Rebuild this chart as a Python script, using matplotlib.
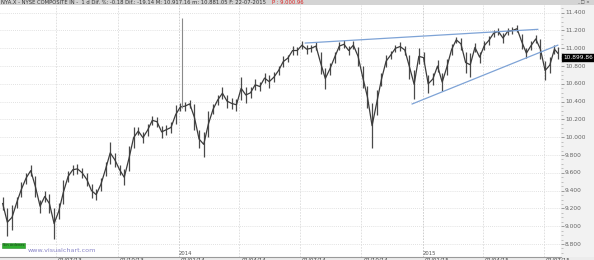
import numpy as np
import pandas as pd
import matplotlib
matplotlib.use('Agg')
import matplotlib.pyplot as plt
import matplotlib.dates as mdates

# weekly bars (friday), NYA.X
weeks = list(pd.date_range('2013-04-12', '2015-07-17', freq='W-FRI')) + [pd.Timestamp('2015-07-22')]
week_high = [9330, 9200, 9240, 9330, 9500, 9600, 9690, 9560, 9300, 9400,
             9360, 9200, 9260, 9520, 9620, 9690, 9700, 9660, 9600, 9480,
             9420, 9540, 9720, 9950, 9820, 9690, 9640, 9900, 10110, 10120,
             10060, 10150, 10240, 10230, 10130, 10140, 10170, 10360, 10390, 10400,
             10420, 10370, 10080, 10060, 10300, 10370, 10480, 10560, 10480, 10440,
             10430, 10680, 10560, 10560, 10650, 10620, 10720, 10700, 10730, 10800,
             10910, 10930, 11030, 11020, 11080, 11040, 11040, 11070, 10960, 10780,
             10840, 10960, 11070, 11090, 11030, 11080, 11020, 10800, 10580, 10380,
             10530, 10720, 10920, 10970, 11040, 11070, 11030, 10930, 10760, 11000,
             10960, 10700, 10720, 10870, 10720, 10880, 11050, 11130, 11120, 10960,
             10950, 11060, 10960, 11080, 11140, 11210, 11230, 11170, 11230, 11240,
             11260, 11160, 11000, 11080, 11150, 11100, 10860, 10900, 11040, 11010]
week_low = [9180, 8890, 8960, 9200, 9330, 9480, 9560, 9330, 9150, 9270,
            9150, 8860, 9080, 9250, 9500, 9580, 9590, 9540, 9450, 9320,
            9290, 9400, 9560, 9700, 9670, 9580, 9460, 9620, 9880, 10020,
            9930, 10010, 10140, 10120, 9990, 10030, 10050, 10150, 10290, 10300,
            10330, 10080, 9880, 9780, 10000, 10260, 10360, 10430, 10330, 10320,
            10300, 10420, 10390, 10440, 10530, 10520, 10610, 10550, 10620, 10700,
            10790, 10850, 10920, 10930, 10990, 10940, 10960, 10980, 10710, 10540,
            10700, 10840, 10980, 11000, 10920, 10990, 10800, 10550, 10330, 9880,
            10250, 10580, 10790, 10880, 10960, 10970, 10930, 10650, 10430, 10820,
            10830, 10500, 10590, 10730, 10520, 10700, 10920, 11060, 10980, 10720,
            10680, 10960, 10840, 10980, 11040, 11130, 11150, 11060, 11150, 11160,
            11180, 10990, 10890, 10980, 11060, 10880, 10640, 10720, 10940, 10880]

# bad print early january 2014
spike_date = pd.Timestamp('2014-01-06')
spike_high, spike_low = 11340, 10330

# trend lines drawn on the chart
upper_line = (['2014-07-09', '2015-06-22'], [11059, 11213])
lower_line = (['2014-12-16', '2015-07-22'], [10374, 11035])

price_ticks = list(range(8800, 11401, 200))
quarters = pd.date_range('2013-07-01', '2015-07-01', freq='QS')
last_close = 10899.86

W, H = 594, 260
fig = plt.figure(figsize=(W / 100, H / 100), dpi=100, facecolor='#ececec')

def fx(px):
    return px / W

def fy(py):
    return 1 - py / H

t0 = pd.Timestamp('2013-04-08')
days_per_px = 1.497
x_lo = mdates.date2num(t0)
x_hi = mdates.date2num(t0 + pd.Timedelta(days=561 * days_per_px))
y_top = 11400 + (12.7 - 5) * 11.24
y_bot = 11400 - (257 - 12.7) * 11.24

ax = fig.add_axes([0, fy(257), fx(561), fy(5) - fy(257)])
ax.set_facecolor('white')
ax.set_xlim(x_lo, x_hi)
ax.set_ylim(y_bot, y_top)
ax.set_xticks([])
ax.set_yticks([])
for s in ['top', 'left']:
    ax.spines[s].set_visible(False)
for s in ['bottom', 'right']:
    ax.spines[s].set_color('#9a9a9a')
    ax.spines[s].set_linewidth(0.8)

# grid
for p in price_ticks:
    ax.axhline(p, color='#d8d8d8', lw=0.6, ls=(0, (1, 1.5)), zorder=0)
for q in quarters:
    c = '#c8c8c8' if q.month == 1 else '#dcdcdc'
    ax.axvline(mdates.date2num(q), color=c, lw=0.6, ls=(0, (2, 1.5)), zorder=0)

# price bars
xd = mdates.date2num(weeks)
hi = np.array(week_high)
lo = np.array(week_low)
ax.vlines(xd, lo, hi, color='#4a4a4a', lw=0.9, zorder=3)
ax.plot(xd, (hi + lo) / 2, color='#3c3c3c', lw=0.9, zorder=3)
ax.vlines(mdates.date2num(spike_date), spike_low, spike_high, color='#8a8a8a', lw=0.8, zorder=3)

# trend lines
for dts, vals in [upper_line, lower_line]:
    ax.plot(mdates.date2num(pd.to_datetime(dts)), vals, color='#7ea3d6', lw=0.9, zorder=4)

ax.text(mdates.date2num(pd.Timestamp('2014-01-01')), y_bot + 10, '2014', fontsize=3.8,
        color='#555555', va='bottom', ha='left')
ax.text(mdates.date2num(pd.Timestamp('2015-01-01')), y_bot + 10, '2015', fontsize=3.8,
        color='#555555', va='bottom', ha='left')

# right price panel
axr = fig.add_axes([fx(561), fy(257), fx(33), fy(5) - fy(257)])
axr.set_facecolor('#f2f2f2')
axr.set_ylim(y_bot, y_top)
axr.set_xlim(0, 1)
axr.set_xticks([])
axr.set_yticks(price_ticks)
axr.set_yticks(list(range(8700, 11451, 50)), minor=True)
axr.yaxis.tick_left()
axr.tick_params(axis='y', which='major', direction='in', length=2.5, width=0.5,
                color='#777777', labelleft=False)
axr.tick_params(axis='y', which='minor', direction='in', length=1.2, width=0.4,
                color='#999999')
for s in axr.spines.values():
    s.set_visible(False)
for p in price_ticks:
    lab = '{:,}'.format(p).replace(',', '.')
    axr.text(0.12, p, lab, fontsize=4.2, color='#666666', va='center', ha='left')
close_lab = '{:,.2f}'.format(last_close).replace(',', '.')
axr.text(0.06, last_close, close_lab, fontsize=4.2, color='white', va='center', ha='left',
         bbox=dict(boxstyle='square,pad=0.15', fc='black', ec='black'))

# title bar
fig.patches.append(plt.Rectangle((0, fy(5)), 1, 1 - fy(5), transform=fig.transFigure,
                                 fc='#d4d4d4', ec='none', zorder=0))
title = ('NYA.X - NYSE COMPOSITE IN -  1 d Dif. %: -0.18 Dif.: -19.14 M: 10.917.16 '
         'm: 10.881.05 F: 22-07-2015')
fig.text(fx(1), fy(2.6), title, fontsize=3.8, color='#333333', va='center', ha='left')
fig.text(fx(272), fy(2.6), 'P : 9.000.96', fontsize=3.8, color='#dd2222', va='center', ha='left')
fig.text(fx(590), fy(2.4), '_ \u25a1 \u00d7', fontsize=3.2, color='#444444', va='center', ha='right')

# bottom date labels (cut by the lower edge, as in the source)
for q in quarters:
    px = (mdates.date2num(q) - x_lo) / (x_hi - x_lo) * 561
    fig.text(fx(px + 2), fy(257.6), q.strftime('%d/%m/%y'), fontsize=4, color='#444444',
             va='top', ha='left')

# watermark and order box
fig.text(fx(3), fy(245.5), 'Sin \u00f3rdenes', fontsize=2.6, color='#1a3a1a', va='center',
         ha='left', bbox=dict(boxstyle='square,pad=0.25', fc='#2fae2f', ec='#2a8a2a', lw=0.4))
fig.text(fx(28), fy(250.5), 'www.visualchart.com', fontsize=4.6, color='#8a86c8',
         va='center', ha='left')

fig.savefig('out.png', dpi=100, facecolor=fig.get_facecolor())
